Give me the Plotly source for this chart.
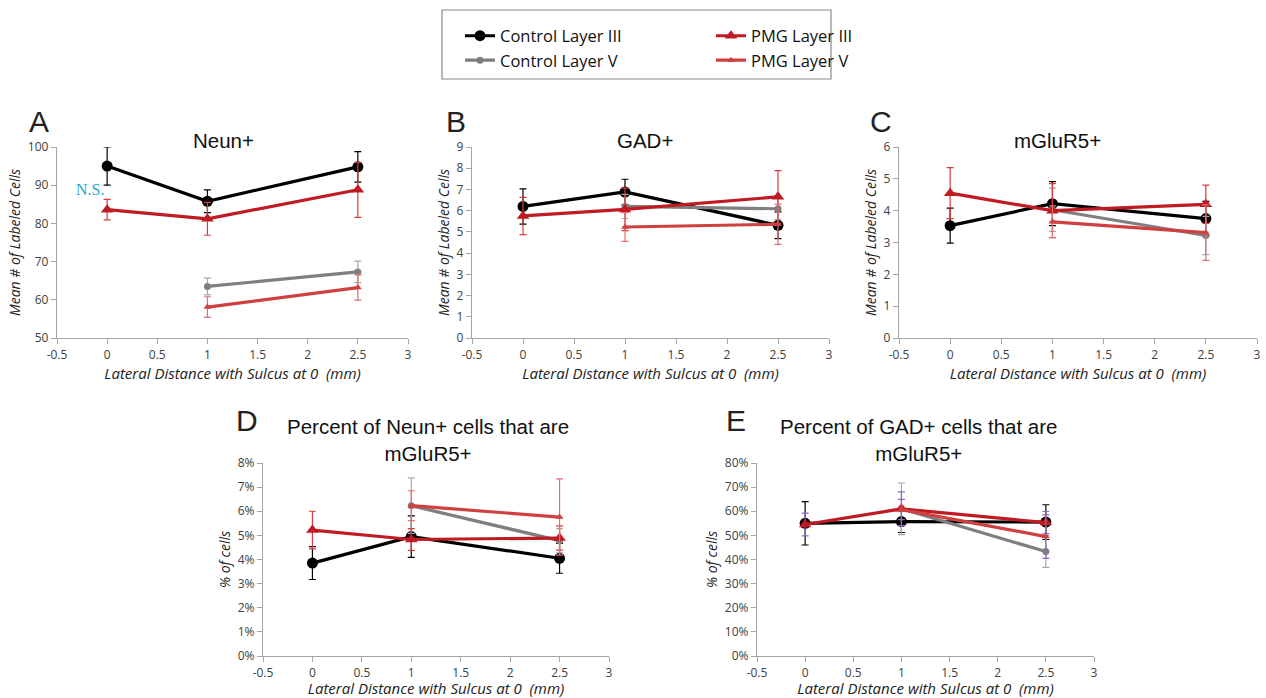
import plotly.graph_objects as go

W, H = 1266, 698

# ---- data ----
X3 = [0, 1, 2.5]
X5 = [1, 2.5]
series_names = ["Control Layer III", "Control Layer V", "PMG Layer III", "PMG Layer V"]

A_ctrl3 = [95.0, 85.8, 94.8];   A_ctrl3_err = [5.0, 3.0, 4.0]
A_pmg3 = [83.6, 81.2, 88.8];    A_pmg3_err = [2.7, 4.3, 7.2]
A_ctrl5 = [63.5, 67.3];         A_ctrl5_err = [2.2, 2.8]
A_pmg5 = [58.1, 63.2];          A_pmg5_err = [2.7, 3.3]

B_ctrl3 = [6.2, 6.88, 5.31];    B_ctrl3_err = [0.83, 0.6, 0.63]
B_pmg3 = [5.75, 6.06, 6.65];    B_pmg3_err = [0.88, 1.0, 1.24]
B_ctrl5 = [6.2, 6.09];          B_ctrl5_err = [0.57, 0.5]
B_pmg5 = [5.23, 5.36];          B_pmg5_err = [0.68, 0.95]

C_ctrl3 = [3.53, 4.22, 3.75];   C_ctrl3_err = [0.55, 0.69, 0.54]
C_pmg3 = [4.55, 4.0, 4.2];      C_pmg3_err = [0.8, 0.85, 0.6]
C_ctrl5 = [4.03, 3.22];         C_ctrl5_err = [0.68, 0.6]
C_pmg5 = [3.65, 3.31];          C_pmg5_err = [0.5, 0.87]

D_ctrl3 = [0.0385, 0.0495, 0.0405]; D_ctrl3_err = [0.0068, 0.0086, 0.0062]
D_pmg3 = [0.0522, 0.0483, 0.0489];  D_pmg3_err = [0.0078, 0.0045, 0.005]
D_ctrl5 = [0.0623, 0.0478];         D_ctrl5_err = [0.0115, 0.005]
D_pmg5 = [0.0623, 0.0576];          D_pmg5_err = [0.0062, 0.0158]

E_ctrl3 = [0.55, 0.557, 0.555];  E_ctrl3_err = [0.09, 0.045, 0.072]
E_pmg3 = [0.545, 0.61, 0.553];   E_pmg3_err = [0.047, 0.07, 0.046]
E_ctrl5 = [0.61, 0.433];         E_ctrl5_err = [0.107, 0.066]
E_pmg5 = [0.607, 0.495];         E_pmg5_err = [0.042, 0.09]

x_tick_vals = [-0.5, 0, 0.5, 1, 1.5, 2, 2.5, 3]
x_tick_text = ["-0.5", "0", "0.5", "1", "1.5", "2", "2.5", "3"]

panel_titles = ["Neun+", "GAD+", "mGluR5+",
                "Percent of Neun+ cells that are<br>mGluR5+",
                "Percent of GAD+ cells that are<br>mGluR5+"]
panel_letters = ["A", "B", "C", "D", "E"]
y_titles = ["Mean # of Labeled Cells"] * 3 + ["% of cells"] * 2
x_title = "Lateral Distance with Sulcus at 0&nbsp;&nbsp;(mm)"
y_ranges = [[50, 100], [0, 9], [0, 6], [0, 0.08], [0, 0.8]]
y_dticks = [10, 1, 1, 0.01, 0.1]
y_formats = ["", "", "", ".0%", ".0%"]

# ---- styles ----
C_BLACK = "#000000"
C_RED = "#c01a22"
C_GRAY = "#7f7f7f"
C_LRED = "#cf4040"
ERR_COL = {"Control Layer III": "#000000", "PMG Layer III": "#d83c3c",
           "Control Layer V": "#a8a8a8", "PMG Layer V": "#e27070"}
STYLE = {
    "Control Layer III": dict(color=C_BLACK, symbol="circle", size=11),
    "Control Layer V": dict(color=C_GRAY, symbol="circle", size=7),
    "PMG Layer III": dict(color=C_RED, symbol="triangle-up", size=11),
    "PMG Layer V": dict(color=C_LRED, symbol="triangle-up", size=7),
}
LEGEND_OF = {"Control Layer III": "legend", "Control Layer V": "legend",
             "PMG Layer III": "legend2", "PMG Layer V": "legend2"}

# pixel boxes of plot areas: (x0, x1, ytop, ybottom)
boxes = [(57, 408, 147, 338), (472, 829, 147, 338), (899, 1257, 147, 338),
         (263, 609, 463, 656), (757, 1094, 463, 656)]
title_centers = [223, 645, 1057, 428, 918]
letter_left = [27, 444, 868, 234, 724]

panels = [
    {"Control Layer III": (X3, A_ctrl3, A_ctrl3_err), "Control Layer V": (X5, A_ctrl5, A_ctrl5_err),
     "PMG Layer III": (X3, A_pmg3, A_pmg3_err), "PMG Layer V": (X5, A_pmg5, A_pmg5_err)},
    {"Control Layer III": (X3, B_ctrl3, B_ctrl3_err), "Control Layer V": (X5, B_ctrl5, B_ctrl5_err),
     "PMG Layer III": (X3, B_pmg3, B_pmg3_err), "PMG Layer V": (X5, B_pmg5, B_pmg5_err)},
    {"Control Layer III": (X3, C_ctrl3, C_ctrl3_err), "Control Layer V": (X5, C_ctrl5, C_ctrl5_err),
     "PMG Layer III": (X3, C_pmg3, C_pmg3_err), "PMG Layer V": (X5, C_pmg5, C_pmg5_err)},
    {"Control Layer III": (X3, D_ctrl3, D_ctrl3_err), "Control Layer V": (X5, D_ctrl5, D_ctrl5_err),
     "PMG Layer III": (X3, D_pmg3, D_pmg3_err), "PMG Layer V": (X5, D_pmg5, D_pmg5_err)},
    {"Control Layer III": (X3, E_ctrl3, E_ctrl3_err), "Control Layer V": (X5, E_ctrl5, E_ctrl5_err),
     "PMG Layer III": (X3, E_pmg3, E_pmg3_err), "PMG Layer V": (X5, E_pmg5, E_pmg5_err)},
]

TICK_FONT = dict(family="Open Sans", size=12, color="#404040")
XTITLE_FONT = dict(family="Open Sans", size=15, color="#222222", style="italic")
YTITLE_FONT = dict(family="Open Sans", size=14, color="#222222", style="italic")
AX_COL = "#a6a6a6"

fig = go.Figure()
layout_axes = {}
annotations = []

for i, (panel, box) in enumerate(zip(panels, boxes)):
    n = "" if i == 0 else str(i + 1)
    xa, ya = "x" + n, "y" + n
    x0, x1, yt, yb = box
    for name in series_names:
        xs, ys, es = panel[name]
        st = STYLE[name]
        ecol = ERR_COL[name]
        if i == 4 and name.startswith("PMG"):
            ecol = "#9068c0"
        fig.add_trace(go.Scatter(
            x=xs, y=ys, name=name, mode="lines+markers",
            line=dict(color=st["color"], width=3.2),
            marker=dict(color=st["color"], symbol=st["symbol"], size=st["size"]),
            error_y=dict(type="data", array=es, visible=True, color=ecol, thickness=1.2, width=3.5),
            xaxis=xa, yaxis=ya, showlegend=(i == 0), legend=LEGEND_OF[name],
        ))
    layout_axes["xaxis" + n] = dict(
        domain=[x0 / W, x1 / W], anchor=ya, range=[-0.5, 3],
        tickmode="array", tickvals=x_tick_vals, ticktext=x_tick_text,
        showgrid=False, zeroline=False, showline=True, linecolor=AX_COL, linewidth=1.3,
        ticks="outside", ticklen=5, tickcolor=AX_COL, tickfont=TICK_FONT, automargin=False,
        title=dict(text=x_title, font=XTITLE_FONT, standoff=2),
    )
    layout_axes["yaxis" + n] = dict(
        domain=[1 - yb / H, 1 - yt / H], anchor=xa, range=y_ranges[i], dtick=y_dticks[i],
        tickformat=y_formats[i], automargin=False,
        showgrid=False, zeroline=False, showline=True, linecolor=AX_COL, linewidth=1.3,
        ticks="outside", ticklen=5, tickcolor=AX_COL, tickfont=TICK_FONT,
        title=dict(text=y_titles[i], font=YTITLE_FONT, standoff=3),
    )
    ty = 140 if i < 3 else 440
    ly = 122 if i < 3 else 420
    annotations.append(dict(text=panel_titles[i], x=title_centers[i] / W, y=1 - ty / H,
                            xref="paper", yref="paper", showarrow=False,
                            font=dict(family="Liberation Sans", size=20.5, color="#111111"),
                            xanchor="center", yanchor="middle"))
    annotations.append(dict(text=panel_letters[i], x=letter_left[i] / W, y=1 - ly / H,
                            xref="paper", yref="paper", showarrow=False,
                            font=dict(family="Liberation Sans", size=30, color="#222222"),
                            xanchor="left", yanchor="middle"))

annotations.append(dict(text="N.S.", x=-0.17, y=89.0, xref="x", yref="y", showarrow=False,
                        font=dict(family="Liberation Serif", size=16, color="#2aa8d2"),
                        xanchor="center", yanchor="middle"))

LEG_FONT = dict(family="Open Sans", size=16.5, color="#111111")
fig.update_layout(
    width=W, height=H, margin=dict(l=0, r=0, t=0, b=0),
    paper_bgcolor="white", plot_bgcolor="white",
    annotations=annotations,
    legend=dict(x=460 / W, y=1 - 48 / H, xanchor="left", yanchor="middle", font=LEG_FONT,
                bgcolor="rgba(0,0,0,0)", tracegroupgap=0, itemwidth=30),
    legend2=dict(x=711 / W, y=1 - 48 / H, xanchor="left", yanchor="middle", font=LEG_FONT,
                 bgcolor="rgba(0,0,0,0)", tracegroupgap=0, itemwidth=30),
    shapes=[dict(type="rect", xref="paper", yref="paper", x0=442 / W, x1=831 / W,
                 y0=1 - 79 / H, y1=1 - 10 / H, line=dict(color="#8a8a8a", width=1.2))],
    **layout_axes,
)

fig.write_html("out.html", config={"displayModeBar": False},
               post_script="document.body.style.margin='0';document.body.style.overflow='hidden';")
